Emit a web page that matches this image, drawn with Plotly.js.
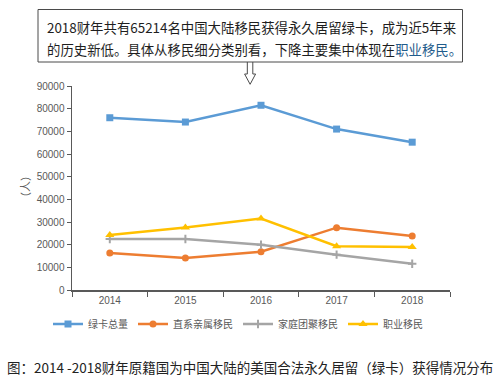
<!DOCTYPE html>
<html><head><meta charset="utf-8">
<script src="https://cdn.plot.ly/plotly-3.0.1.min.js"></script>
<style>html,body{margin:0;padding:0;background:#fff;}#chart{width:500px;height:376px;}</style>
</head><body><div id="chart"></div>
<script>
const years = ['2014','2015','2016','2017','2018'];
const seriesNames = ['绿卡总量','直系亲属移民','家庭团聚移民','职业移民'];
const greenCardTotal = [76000, 74100, 81500, 71000, 65214];
const immediateRelatives = [16300, 14100, 16900, 27500, 23800];
const familyReunion = [22500, 22500, 20000, 15600, 11600];
const employment = [24300, 27600, 31500, 19300, 19000];
const yTicks = [0,10000,20000,30000,40000,50000,60000,70000,80000,90000];
const headline1 = '2018财年共有65214名中国大陆移民获得永久居留绿卡，成为近5年来';
const headline2a = '的历史新低。具体从移民细分类别看，下降主要集中体现在';
const headline2b = '职业移民。';
const caption = '图：2014 -2018财年原籍国为中国大陆的美国合法永久居留（绿卡）获得情况分布';
const yTitle = '（人）';

// pixel -> paper helpers (plot area 72..450 x, 86..290 y)
const L=72, R=450, T=86, B=290;
const px = x => (x-L)/(R-L);
const py = y => (B-y)/(B-T);

const colors = ['#5B9BD5','#ED7D31','#A5A5A5','#FFC000'];
const symbols = ['square','circle','cross-thin','triangle-up'];
const sizes = [7,7,6,8];
const data = [greenCardTotal, immediateRelatives, familyReunion, employment].map((v,i)=>({
  x: years, y: v, type:'scatter', mode:'lines+markers', name: seriesNames[i],
  line:{color:colors[i], width:2.5},
  marker:{symbol:symbols[i], size:sizes[i], color:colors[i], line:{color:colors[i], width: i===2?2:0}}
}));

const font = "'Noto Sans CJK SC', 'Liberation Sans', sans-serif";
const arrow = [[247.3,62],[247.3,74],[244.6,74],[250.1,84.3],[255.6,74],[252.8,74],[252.8,62]]
  .map((p,i)=>(i?'L ':'M ')+px(p[0]).toFixed(4)+' '+py(p[1]).toFixed(4)).join(' ');

const layout = {
  width:500, height:376,
  margin:{l:L, r:500-R, t:T, b:376-B},
  paper_bgcolor:'#fff', plot_bgcolor:'#fff',
  font:{family:font, color:'#595959'},
  showlegend:true,
  legend:{orientation:'h', x:px(48), xanchor:'left', y:py(324), yanchor:'middle',
    font:{size:10, color:'#595959', family:font}, itemwidth:30},
  xaxis:{type:'category', range:[-0.5,4.5], showline:true, linecolor:'#595959', linewidth:1.5,
    ticks:'outside', tickson:'boundaries', ticklen:5, tickcolor:'#595959', showgrid:false, zeroline:false,
    tickfont:{size:10, color:'#595959', family:"'Liberation Sans', sans-serif"}, fixedrange:true},
  yaxis:{range:[0,90000], tickvals:yTicks, tickformat:'d', showline:true, linecolor:'#595959', linewidth:1.5,
    ticks:'outside', ticklen:4, tickcolor:'#595959', showgrid:false, zeroline:false,
    tickfont:{size:10, color:'#595959', family:"'Liberation Sans', sans-serif"}, fixedrange:true},
  shapes:[
    {type:'rect', xref:'paper', yref:'paper', x0:px(38), x1:px(462.5), y0:py(62), y1:py(9.5),
     line:{color:'#4a4a4a', width:1}, fillcolor:'rgba(0,0,0,0)'},
    {type:'path', xref:'paper', yref:'paper', path:arrow, line:{color:'#4a4a4a', width:1}}
  ],
  annotations:[
    {xref:'paper', yref:'paper', x:px(45), y:py(27), xanchor:'left', yanchor:'middle', showarrow:false,
     text:headline1, font:{size:13.4, color:'#1e1e1e', family:font}},
    {xref:'paper', yref:'paper', x:px(45), y:py(49), xanchor:'left', yanchor:'middle', showarrow:false,
     text:headline2a + '<span style="color:#1f5c8c">' + headline2b + '</span>', font:{size:13.4, color:'#1e1e1e', family:font}},
    {xref:'paper', yref:'paper', x:px(25), y:py(187), xanchor:'center', yanchor:'middle', showarrow:false,
     textangle:-90, text:yTitle, font:{size:11, color:'#595959', family:font}},
    {xref:'paper', yref:'paper', x:px(250), y:py(367), xanchor:'center', yanchor:'middle', showarrow:false,
     text:caption, font:{size:13.5, color:'#222', family:font}}
  ]
};
Plotly.newPlot('chart', data, layout, {displayModeBar:false, staticPlot:true});
</script></body></html>
